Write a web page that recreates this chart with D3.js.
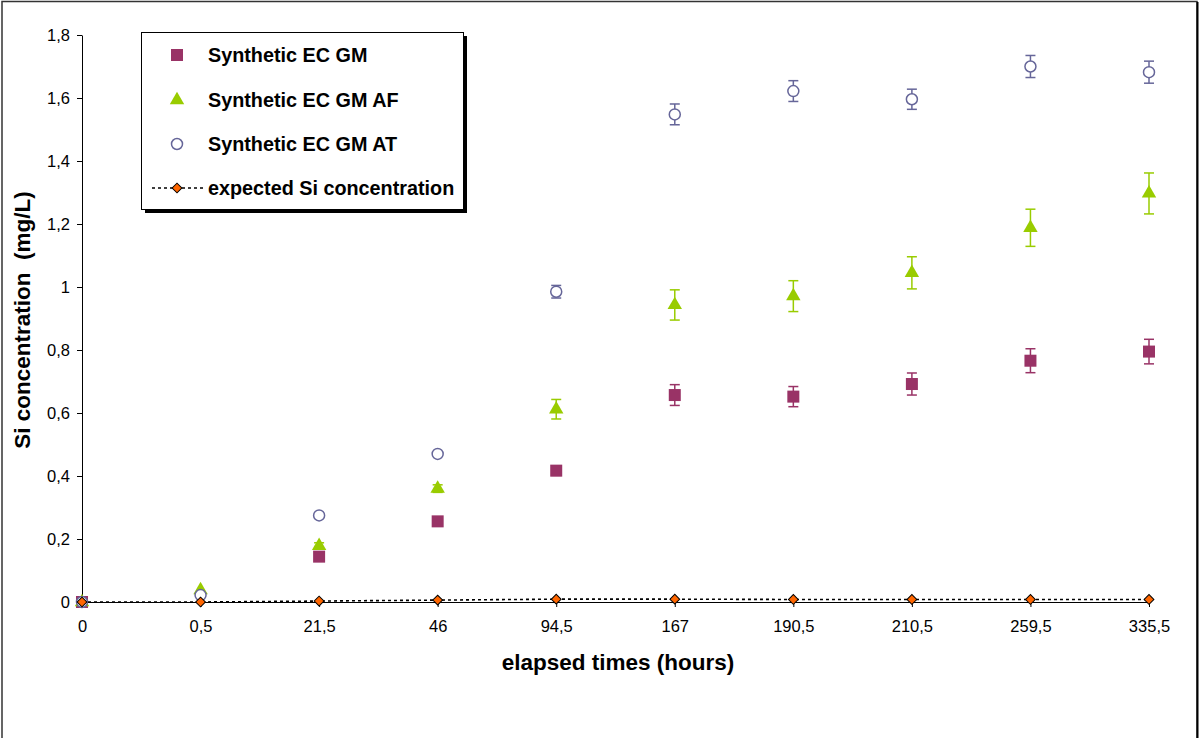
<!DOCTYPE html>
<html>
<head>
<meta charset="utf-8">
<script src="https://cdn.jsdelivr.net/npm/d3@7"></script>
<style>
  html, body { margin: 0; padding: 0; background: #fff; }
  svg { display: block; font-family: "Liberation Sans", Arial, sans-serif; }
</style>
</head>
<body>
<svg id="chart" width="1199" height="738"></svg>
<script>
const categories = ["0", "0,5", "21,5", "46", "94,5", "167", "190,5", "210,5", "259,5", "335,5"];
const gmValues = [0, null, 0.144, 0.256, 0.417, 0.657, 0.652, 0.692, 0.766, 0.795];
const gmErrors = [0, 0, 0.006, 0.006, 0.015, 0.033, 0.032, 0.035, 0.038, 0.039];
const afValues = [0, 0.038, 0.178, 0.36, 0.612, 0.943, 0.971, 1.045, 1.188, 1.297];
const afErrors = [0, 0, 0.01, 0.012, 0.031, 0.048, 0.049, 0.051, 0.059, 0.065];
const atValues = [0, 0.022, 0.275, 0.47, 0.985, 1.548, 1.622, 1.596, 1.70, 1.682];
const atErrors = [0, 0, 0, 0, 0.02, 0.033, 0.033, 0.032, 0.035, 0.035];
const expectedValues = [0, 0, 0.003, 0.006, 0.009, 0.009, 0.008, 0.008, 0.008, 0.008];
const yTicks = [0, 0.2, 0.4, 0.6, 0.8, 1, 1.2, 1.4, 1.6, 1.8];
const seriesNames = ["Synthetic EC GM", "Synthetic EC GM AF", "Synthetic EC GM AT", "expected Si concentration"];

const svg = d3.select("#chart");

// outer frame
svg.append("rect").attr("x", 2).attr("y", 1.5).attr("width", 1195).attr("height", 760)
  .attr("fill", "none").attr("stroke", "#333").attr("stroke-width", 1.5);
svg.append("line").attr("x1", 1197.5).attr("x2", 1197.5).attr("y1", 2).attr("y2", 738)
  .attr("stroke", "#000").attr("stroke-width", 2);

const x = d3.scalePoint().domain(categories).range([82, 1149]);
const y = d3.scaleLinear().domain([0, 1.8]).range([602, 35]);

const fmt = d => String(d).replace(".", ",");

// y axis
const yAxis = svg.append("g").attr("transform", "translate(82,0)")
  .call(d3.axisLeft(y).tickValues(yTicks).tickFormat(fmt).tickSize(5).tickSizeOuter(0));
yAxis.select(".domain").attr("stroke", "#000");
yAxis.selectAll(".tick line").attr("stroke", "#000");
yAxis.selectAll("text").attr("font-size", 16.5).attr("fill", "#000").attr("x", -12)
  .attr("font-family", "Liberation Sans, Arial, sans-serif");

// x axis
const xAxis = svg.append("g").attr("transform", "translate(0,602)")
  .call(d3.axisBottom(x).tickSize(5).tickSizeOuter(0));
xAxis.select(".domain").attr("stroke", "#000");
xAxis.selectAll(".tick line").attr("stroke", "#000");
xAxis.selectAll("text").attr("font-size", 16.5).attr("fill", "#000").attr("y", 18)
  .attr("font-family", "Liberation Sans, Arial, sans-serif");

// axis titles
svg.append("text").attr("x", 618).attr("y", 670).attr("text-anchor", "middle")
  .attr("font-size", 22.5).attr("font-weight", "bold").text("elapsed times (hours)");
svg.append("text").attr("transform", "translate(30,320) rotate(-90)").attr("text-anchor", "middle")
  .attr("font-size", 22.5).attr("font-weight", "bold").attr("xml:space", "preserve")
  .style("white-space", "pre").text("Si concentration  (mg/L)");

const colors = { gm: "#993366", af: "#99CC00", at: "#666699", exp: "#FF6600" };

function errorBars(values, errors, color) {
  const g = svg.append("g");
  values.forEach((v, i) => {
    if (v == null || !errors[i]) return;
    const cx = x(categories[i]);
    const y1 = y(v + errors[i]), y2 = y(v - errors[i]);
    g.append("line").attr("x1", cx).attr("x2", cx).attr("y1", y1).attr("y2", y2)
      .attr("stroke", color).attr("stroke-width", 1.5);
    [y1, y2].forEach(yy => g.append("line").attr("x1", cx - 5).attr("x2", cx + 5)
      .attr("y1", yy).attr("y2", yy).attr("stroke", color).attr("stroke-width", 1.5));
  });
}

errorBars(gmValues, gmErrors, colors.gm);
errorBars(afValues, afErrors, colors.af);
errorBars(atValues, atErrors, colors.at);

const pts = arr => arr.map((v, i) => ({ i, v })).filter(d => d.v != null);

// GM squares
svg.append("g").selectAll("rect").data(pts(gmValues)).join("rect")
  .attr("x", d => x(categories[d.i]) - 6).attr("y", d => y(d.v) - 6)
  .attr("width", 12).attr("height", 12).attr("fill", colors.gm);

// AF triangles
const tri = d3.symbol().type(d3.symbolTriangle).size(90);
svg.append("g").selectAll("path").data(pts(afValues)).join("path")
  .attr("d", tri).attr("transform", d => `translate(${x(categories[d.i])},${y(d.v)})`)
  .attr("fill", colors.af);

// AT open circles
svg.append("g").selectAll("circle").data(pts(atValues)).join("circle")
  .attr("cx", d => x(categories[d.i])).attr("cy", d => y(d.v)).attr("r", 5.5)
  .attr("fill", "#fff").attr("stroke", colors.at).attr("stroke-width", 1.5);

// expected line
const line = d3.line().x((d, i) => x(categories[i])).y(d => y(d));
svg.append("path").datum(expectedValues).attr("d", line).attr("fill", "none")
  .attr("stroke", "#000").attr("stroke-width", 1.6).attr("stroke-dasharray", "3,3");
const diamond = d3.symbol().type(d3.symbolSquare).size(48);
svg.append("g").selectAll("path").data(expectedValues).join("path")
  .attr("d", diamond).attr("transform", (d, i) => `translate(${x(categories[i])},${y(d)}) rotate(45)`)
  .attr("fill", colors.exp).attr("stroke", "#000").attr("stroke-width", 1);

// legend
const lg = svg.append("g");
lg.append("rect").attr("x", 145).attr("y", 36).attr("width", 322).attr("height", 177).attr("fill", "#000");
lg.append("rect").attr("x", 141.5).attr("y", 32.5).attr("width", 322).attr("height", 177)
  .attr("fill", "#fff").attr("stroke", "#000").attr("stroke-width", 1);
const ly = [55, 100, 144, 188];
lg.append("rect").attr("x", 171).attr("y", ly[0] - 6).attr("width", 12).attr("height", 12).attr("fill", colors.gm);
lg.append("path").attr("d", tri).attr("transform", `translate(177,${ly[1]})`).attr("fill", colors.af);
lg.append("circle").attr("cx", 177).attr("cy", ly[2]).attr("r", 5.5).attr("fill", "#fff")
  .attr("stroke", colors.at).attr("stroke-width", 1.5);
lg.append("line").attr("x1", 152).attr("x2", 204).attr("y1", ly[3]).attr("y2", ly[3])
  .attr("stroke", "#000").attr("stroke-width", 1.6).attr("stroke-dasharray", "3,3");
lg.append("path").attr("d", diamond).attr("transform", `translate(177,${ly[3]}) rotate(45)`)
  .attr("fill", colors.exp).attr("stroke", "#000").attr("stroke-width", 1);
seriesNames.forEach((n, i) => {
  lg.append("text").attr("x", 208).attr("y", ly[i]).attr("dy", "0.36em")
    .attr("font-size", 19.8).attr("font-weight", "bold").text(n);
});
</script>
</body>
</html>
